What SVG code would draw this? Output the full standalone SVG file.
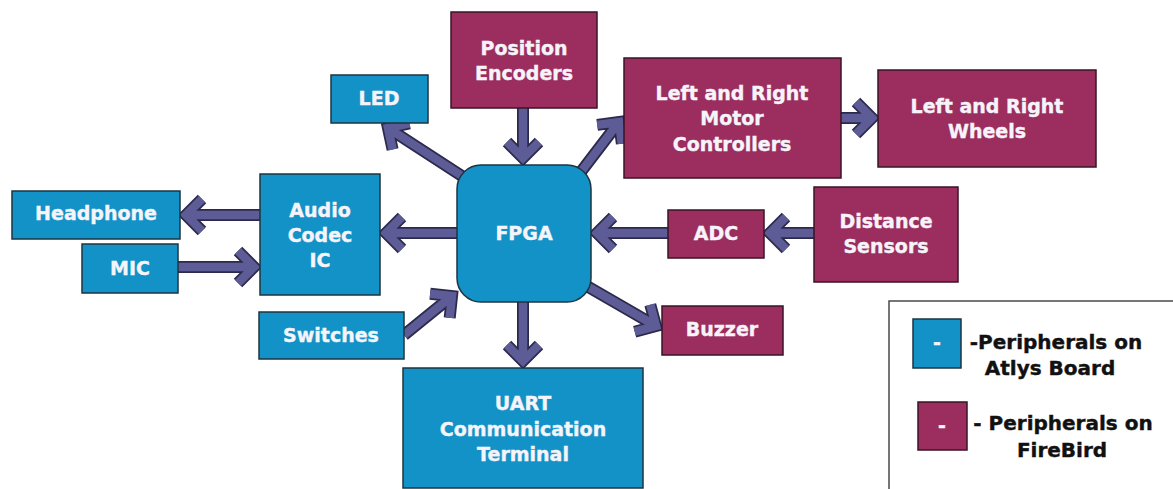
<svg xmlns="http://www.w3.org/2000/svg" width="1173" height="489" viewBox="0 0 1173 489">
  <style>
    .atlys { fill: #1292c6; stroke: #1d3440; stroke-width: 1.5; }
    .fbird { fill: #9b2d5f; stroke: #3a1526; stroke-width: 1.5; }
    .lbl { font-family: "DejaVu Sans", "Liberation Sans", sans-serif; font-weight: bold; font-size: 19px; fill: #f6f4fa; stroke: #f6f4fa; stroke-width: 0.4; text-anchor: middle; }
    .leg { font-family: "DejaVu Sans", "Liberation Sans", sans-serif; font-weight: bold; font-size: 20px; fill: #111111; stroke: #111111; stroke-width: 0.4; text-anchor: middle; }
    .arr-o { fill: none; stroke: #2c2a4c; stroke-width: 12; stroke-linejoin: miter; stroke-linecap: butt; }
    .arr-i { fill: none; stroke: #5e5c97; stroke-width: 8.5; stroke-linejoin: miter; stroke-linecap: butt; }
  </style>
  <defs>
    <!-- each connector: shaft to the tip, then an open chevron head -->
    <path id="c-enc" d="M523 108 L523 158 M507 142 L523 158 L539 142"/>
    <path id="c-uart" d="M523 302 L523 361 M507 345 L523 361 L539 345"/>
    <path id="c-led" d="M465 178 L388 128 M392.6 149.5 L388 128 L409.5 123.4"/>
    <path id="c-motor" d="M580 173 L619 122 M597.2 124.9 L619 122 L621.9 143.8"/>
    <path id="c-wheels" d="M841 118 L872 118 M856 102 L872 118 L856 134"/>
    <path id="c-dist" d="M814 233 L770 233 M786 217 L770 233 L786 249"/>
    <path id="c-adc" d="M668 233 L597 233 M613 217 L597 233 L613 249"/>
    <path id="c-buzz" d="M585 285 L656 326 M650.3 304.7 L656 326 L634.7 331.7"/>
    <path id="c-sw" d="M404 335 L452 296 M430.1 293.7 L452 296 L449.7 317.9"/>
    <path id="c-audio" d="M457 233 L386 233 M402 217 L386 233 L402 249"/>
    <path id="c-head" d="M260 215 L186 215 M202 199 L186 215 L202 231"/>
    <path id="c-mic" d="M178 267 L254 267 M238 251 L254 267 L238 283"/>
  </defs>

  <rect x="0" y="0" width="1173" height="489" fill="#ffffff"/>

  <!-- connectors -->
  <g id="connectors">
    <g class="arr-o">
      <use href="#c-enc"/><use href="#c-uart"/><use href="#c-led"/><use href="#c-motor"/>
      <use href="#c-wheels"/><use href="#c-dist"/><use href="#c-adc"/><use href="#c-buzz"/>
      <use href="#c-sw"/><use href="#c-audio"/><use href="#c-head"/><use href="#c-mic"/>
    </g>
    <g class="arr-i">
      <use href="#c-enc"/><use href="#c-uart"/><use href="#c-led"/><use href="#c-motor"/>
      <use href="#c-wheels"/><use href="#c-dist"/><use href="#c-adc"/><use href="#c-buzz"/>
      <use href="#c-sw"/><use href="#c-audio"/><use href="#c-head"/><use href="#c-mic"/>
    </g>
  </g>

  <!-- central device -->
  <g id="fpga">
    <rect class="atlys" x="457" y="165" width="134" height="137" rx="24" ry="24"/>
    <text class="lbl" x="524" y="240">FPGA</text>
  </g>

  <!-- Atlys board peripherals -->
  <g id="led">
    <rect class="atlys" x="331" y="75" width="97" height="48"/>
    <text class="lbl" x="379" y="105">LED</text>
  </g>
  <g id="audio-codec">
    <rect class="atlys" x="260" y="174" width="120" height="121"/>
    <text class="lbl" x="320" y="217">Audio</text>
    <text class="lbl" x="320" y="242">Codec</text>
    <text class="lbl" x="320" y="267">IC</text>
  </g>
  <g id="headphone">
    <rect class="atlys" x="12" y="191" width="168" height="48"/>
    <text class="lbl" x="96" y="220">Headphone</text>
  </g>
  <g id="mic">
    <rect class="atlys" x="82" y="244" width="96" height="49"/>
    <text class="lbl" x="130" y="275">MIC</text>
  </g>
  <g id="switches">
    <rect class="atlys" x="259" y="312" width="145" height="47"/>
    <text class="lbl" x="331" y="342">Switches</text>
  </g>
  <g id="uart">
    <rect class="atlys" x="403" y="368" width="240" height="120"/>
    <text class="lbl" x="523" y="410">UART</text>
    <text class="lbl" x="523" y="436">Communication</text>
    <text class="lbl" x="523" y="461">Terminal</text>
  </g>

  <!-- FireBird peripherals -->
  <g id="position-encoders">
    <rect class="fbird" x="451" y="12" width="146" height="96"/>
    <text class="lbl" x="524" y="55">Position</text>
    <text class="lbl" x="524" y="80">Encoders</text>
  </g>
  <g id="motor-controllers">
    <rect class="fbird" x="624" y="58" width="217" height="120"/>
    <text class="lbl" x="732" y="100">Left and Right</text>
    <text class="lbl" x="732" y="125">Motor</text>
    <text class="lbl" x="732" y="151">Controllers</text>
  </g>
  <g id="wheels">
    <rect class="fbird" x="878" y="70" width="218" height="97"/>
    <text class="lbl" x="987" y="113">Left and Right</text>
    <text class="lbl" x="987" y="138">Wheels</text>
  </g>
  <g id="distance-sensors">
    <rect class="fbird" x="814" y="187" width="144" height="95"/>
    <text class="lbl" x="886" y="228">Distance</text>
    <text class="lbl" x="886" y="253">Sensors</text>
  </g>
  <g id="adc">
    <rect class="fbird" x="668" y="210" width="96" height="48"/>
    <text class="lbl" x="716" y="240">ADC</text>
  </g>
  <g id="buzzer">
    <rect class="fbird" x="662" y="306" width="121" height="49"/>
    <text class="lbl" x="722" y="336">Buzzer</text>
  </g>

  <!-- legend -->
  <g id="legend">
    <rect x="889" y="301" width="300" height="200" fill="#ffffff" stroke="#4a4a4a" stroke-width="1.5"/>
    <rect class="atlys" x="913" y="319" width="48" height="49"/>
    <text class="lbl" x="937" y="349" font-size="16">-</text>
    <text class="leg" x="1056" y="349">-Peripherals on</text>
    <text class="leg" x="1050" y="375">Atlys Board</text>
    <rect class="fbird" x="918" y="402" width="49" height="48"/>
    <text class="lbl" x="942" y="432" font-size="16">-</text>
    <text class="leg" x="1063" y="430">- Peripherals on</text>
    <text class="leg" x="1062" y="457">FireBird</text>
  </g>
</svg>
